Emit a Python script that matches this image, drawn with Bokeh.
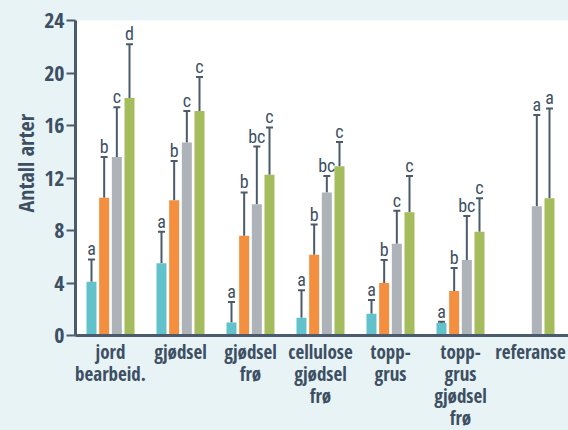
from bokeh.plotting import figure
from bokeh.models import FixedTicker, Range1d, Title, ColumnDataSource
from bokeh.core.properties import value
from bokeh.embed import file_html
from bokeh.resources import INLINE

groups = ["jord\nbearbeid.", "gjødsel", "gjødsel\nfrø", "cellulose\ngjødsel\nfrø",
          "topp-\ngrus", "topp-\ngrus\ngjødsel\nfrø", "referanse"]

teal = [4.1, 5.5, 1.0, 1.35, 1.65, 0.95, None]
teal_up = [5.8, 7.9, 2.55, 3.45, 2.7, 1.05, None]
teal_let = ["a", "a", "a", "a", "a", "a", None]

orange = [10.5, 10.3, 7.6, 6.15, 4.0, 3.4, None]
orange_up = [13.6, 13.3, 10.9, 8.45, 5.75, 5.15, None]
orange_let = ["b", "b", "b", "b", "b", "b", None]

grey = [13.6, 14.7, 10.0, 10.9, 7.0, 5.75, 9.85]
grey_up = [17.4, 17.1, 14.4, 12.15, 9.5, 9.1, 16.8]
grey_let = ["c", "c", "bc", "bc", "c", "bc", "a"]

green = [18.1, 17.1, 12.25, 12.9, 9.4, 7.9, 10.45]
green_up = [22.2, 19.7, 15.85, 14.75, 12.15, 10.45, 17.3]
green_let = ["d", "c", "c", "c", "c", "c", "a"]

y_ticks = [0, 4, 8, 12, 16, 20, 24]

series = [
    (teal, teal_up, teal_let, "#62c2cc"),
    (orange, orange_up, orange_let, "#f38f3f"),
    (grey, grey_up, grey_let, "#aeb3b9"),
    (green, green_up, green_let, "#a5bc5c"),
]

FONT = "Open Sans Condensed"
LFONT = "Roboto Condensed"
TXT = "#3d4f63"
AX = "#4b5b6b"
BG = "#e8f3f6"

p = figure(frame_width=493, frame_height=315, output_backend="svg", toolbar_location=None,
           x_range=Range1d(-0.5, 6.543), y_range=Range1d(0, 24))
p.min_border_left = 75
p.min_border_top = 20
p.min_border_right = 0
p.min_border_bottom = 95
p.background_fill_color = "white"
p.border_fill_color = BG
p.outline_line_color = None
p.grid.visible = False

step = 0.181
bw = 0.143
for i, (vals, ups, lets, col) in enumerate(series):
    off = (i - 1.5) * step
    xs, tops, upp, lab = [], [], [], []
    for g in range(len(groups)):
        if vals[g] is None:
            continue
        xs.append(g + off)
        tops.append(vals[g])
        upp.append(ups[g])
        lab.append(lets[g])
    src = ColumnDataSource(dict(x=xs, top=tops, up=upp, lab=lab))
    p.segment(x0="x", y0="top", x1="x", y1="up", source=src, line_color=AX, line_width=2)
    p.scatter(x="x", y="up", source=src, marker="dash", size=7, line_color=AX, line_width=2)
    p.vbar(x="x", top="top", width=bw, source=src, fill_color=col, line_color=None)
    p.text(x="x", y="up", text="lab", source=src, text_align="center", text_baseline="bottom",
           y_offset=0, text_font=value(LFONT), text_font_size="18px", text_color=TXT)

# y axis
ya = p.yaxis[0]
ya.ticker = FixedTicker(ticks=y_ticks)
ya.axis_line_color = AX
ya.axis_line_width = 3
ya.major_tick_line_color = AX
ya.major_tick_line_width = 2
ya.major_tick_out = 9
ya.major_tick_in = 0
ya.minor_tick_line_color = None
ya.major_label_text_font = FONT
ya.major_label_text_font_size = "22px"
ya.major_label_text_font_style = "bold"
ya.major_label_text_color = TXT
ya.major_label_standoff = 2
ya.axis_label = None

ttl = Title(text="Antall arter", align="left", offset=123, text_font=FONT,
            text_font_size="22px", text_font_style="bold", text_color=TXT, standoff=4)
p.add_layout(ttl, "left")

# x axis
xa = p.xaxis[0]
xa.ticker = FixedTicker(ticks=list(range(len(groups))))
xa.major_label_overrides = {i: g for i, g in enumerate(groups)}
xa.axis_line_color = AX
xa.axis_line_width = 3
xa.major_tick_line_color = None
xa.minor_tick_line_color = None
xa.major_label_text_font = FONT
xa.major_label_text_font_size = "19px"
xa.major_label_text_font_style = "bold"
xa.major_label_text_color = TXT
xa.major_label_text_line_height = 0.85
xa.major_label_standoff = -3

html = file_html(p, INLINE)
html = html.replace("<head>", "<head><style>html,body{margin:0;padding:0;background:%s;overflow:hidden}</style>" % BG, 1)
open("out.html", "w").write(html)
